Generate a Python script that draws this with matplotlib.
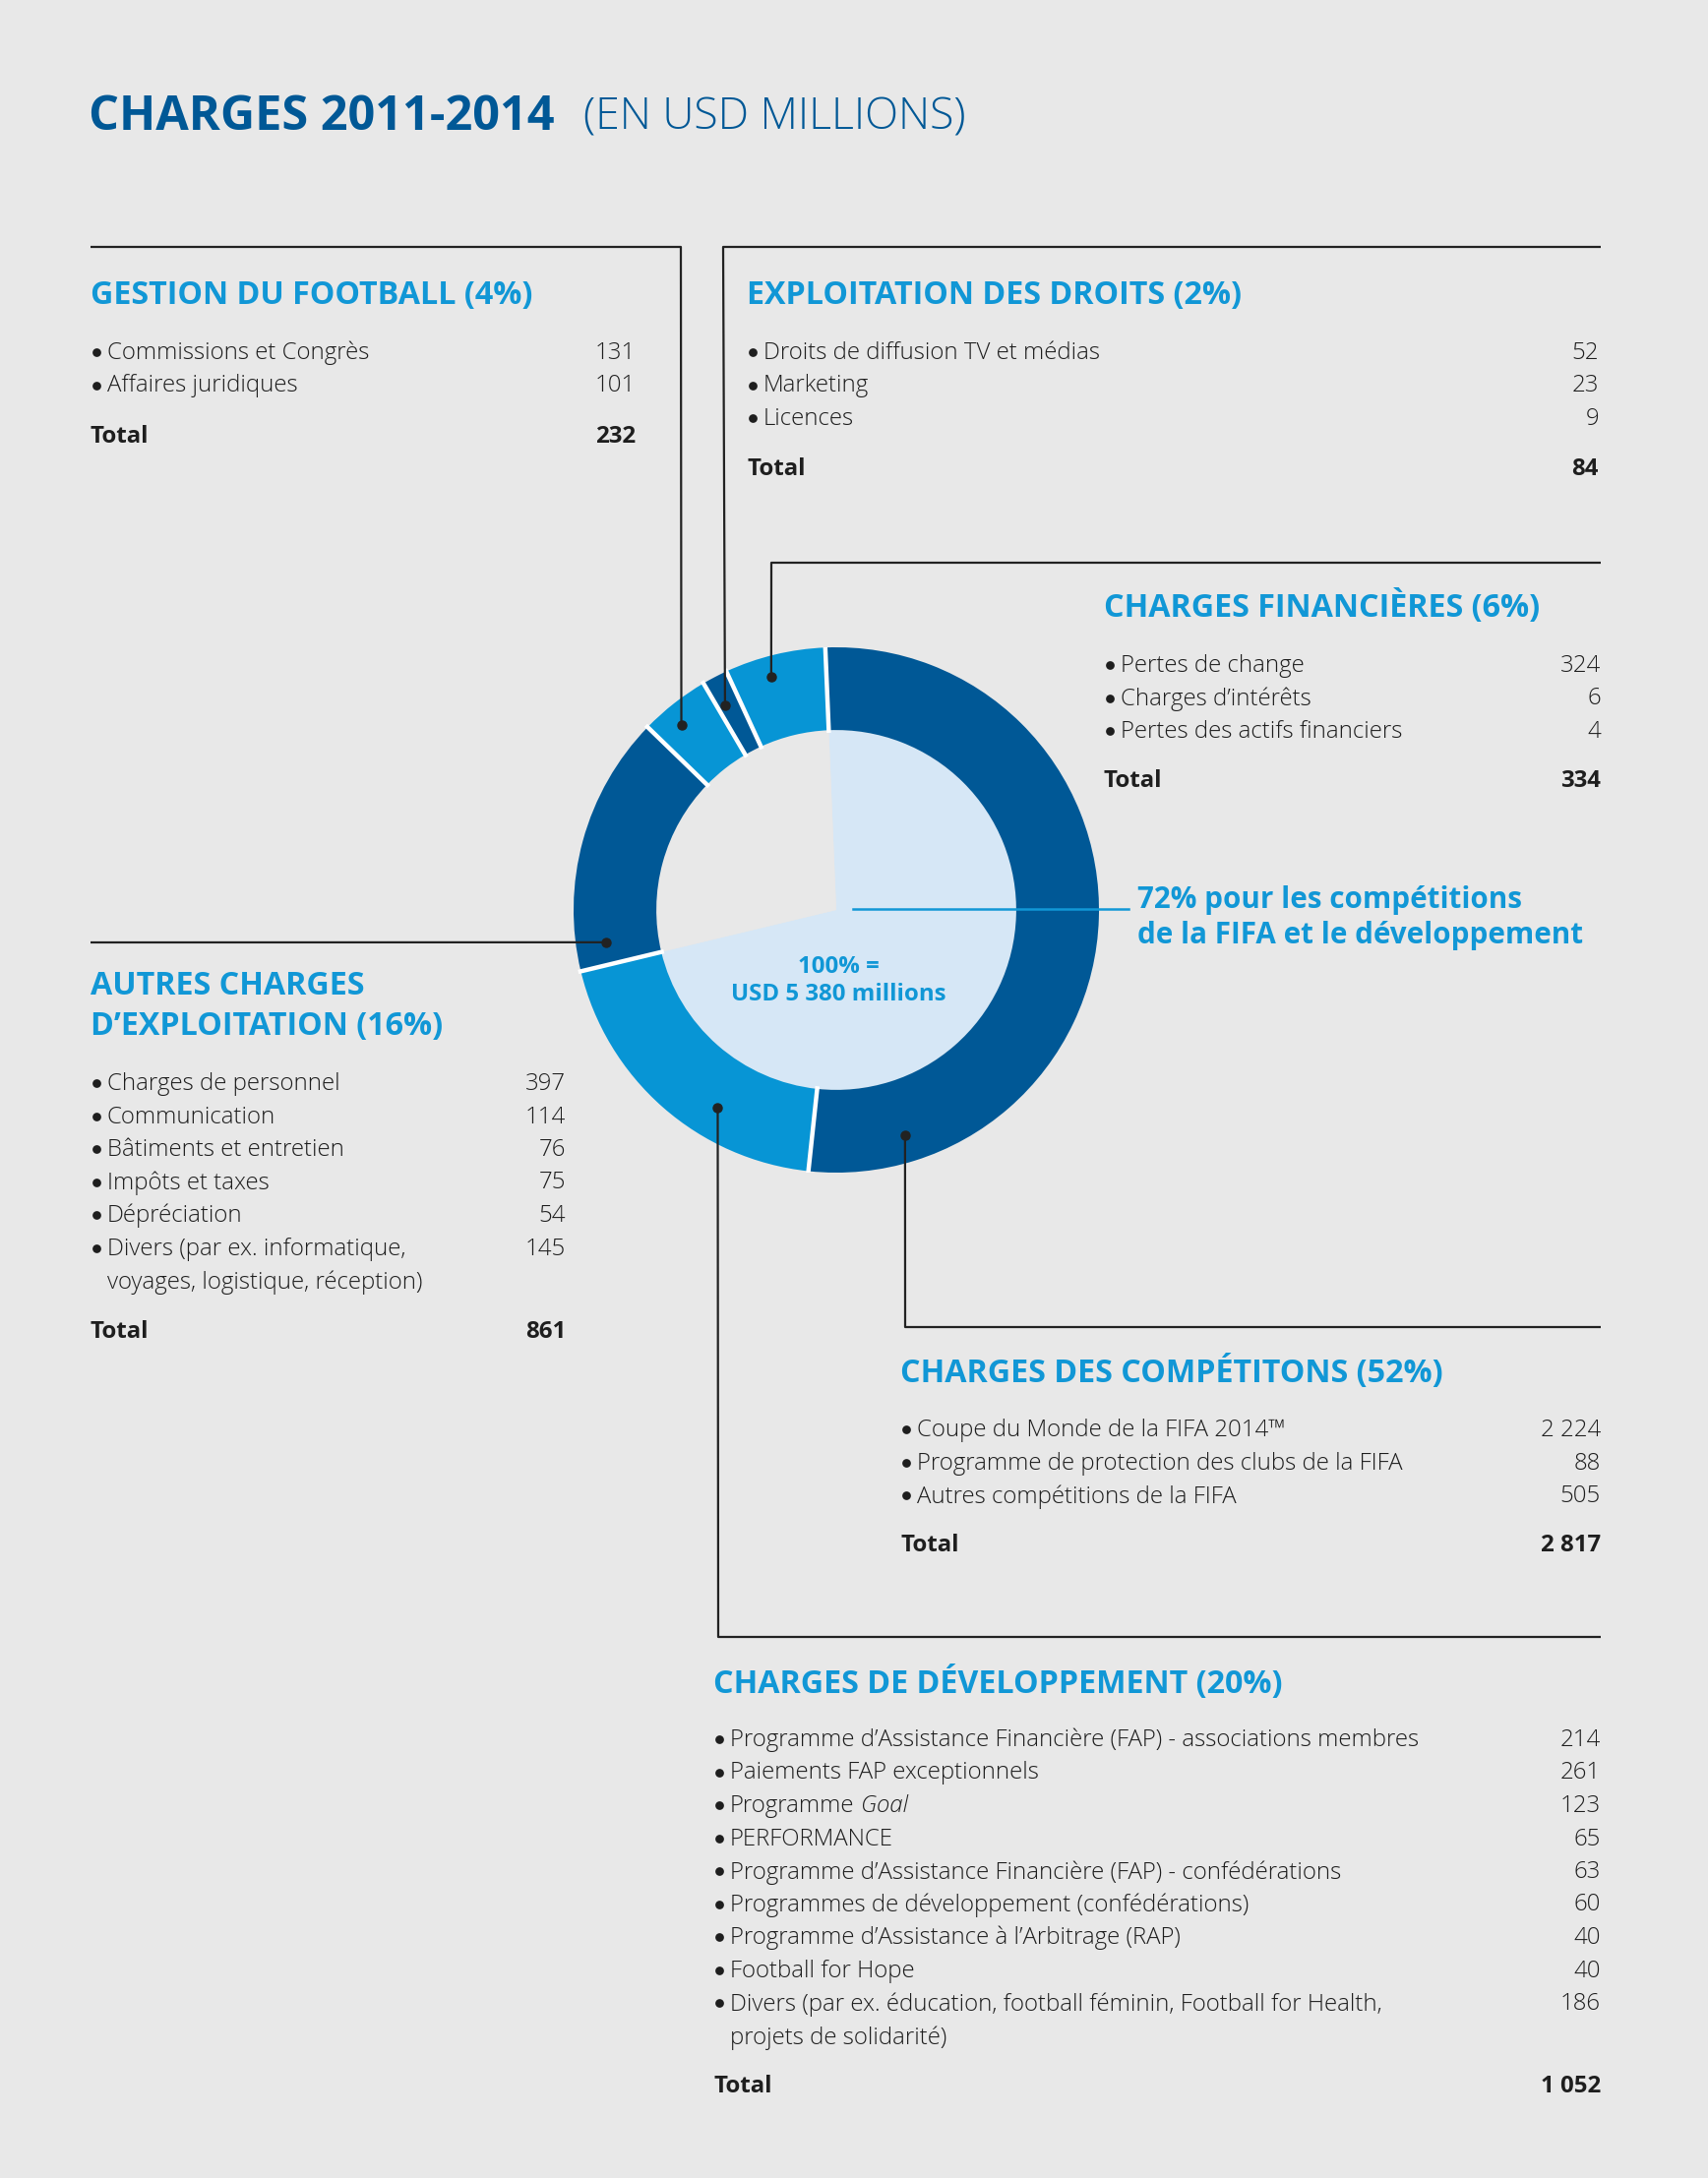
import matplotlib.pyplot as plt
import numpy as np

# --- data -------------------------------------------------------------
segments = ["CHARGES DES COMPÉTITONS", "CHARGES DE DÉVELOPPEMENT",
            "AUTRES CHARGES\nD’EXPLOITATION", "GESTION DU FOOTBALL",
            "EXPLOITATION DES DROITS", "CHARGES FINANCIÈRES"]
totals = [2817, 1052, 861, 232, 84, 334]

comp_items = ["Coupe du Monde de la FIFA 2014™",
              "Programme de protection des clubs de la FIFA",
              "Autres compétitions de la FIFA"]
comp_values = [2224, 88, 505]

# *...* marks the italic part
dev_items = ["Programme d’Assistance Financière (FAP) - associations membres",
             "Paiements FAP exceptionnels",
             "Programme *Goal*",
             "PERFORMANCE",
             "Programme d’Assistance Financière (FAP) - confédérations",
             "Programmes de développement (confédérations)",
             "Programme d’Assistance à l’Arbitrage (RAP)",
             "Football for Hope",
             "Divers (par ex. éducation, football féminin, Football for Health,\nprojets de solidarité)"]
dev_values = [214, 261, 123, 65, 63, 60, 40, 40, 186]

autres_items = ["Charges de personnel", "Communication", "Bâtiments et entretien",
                "Impôts et taxes", "Dépréciation",
                "Divers (par ex. informatique,\nvoyages, logistique, réception)"]
autres_values = [397, 114, 76, 75, 54, 145]

gestion_items = ["Commissions et Congrès", "Affaires juridiques"]
gestion_values = [131, 101]

droits_items = ["Droits de diffusion TV et médias", "Marketing", "Licences"]
droits_values = [52, 23, 9]

fin_items = ["Pertes de change", "Charges d’intérêts", "Pertes des actifs financiers"]
fin_values = [324, 6, 4]

# --- style ------------------------------------------------------------
BG = "#e8e8e8"
DARK = "#005896"
MID = "#0795d5"
LIGHT = "#d6e7f6"
HEAD = "#1197d6"
TXT = "#1e1e1e"
FONT = ["Open Sans", "DejaVu Sans"]
ITEM_FS = 17.3
HEAD_FS = 23.2

W, H = 1736, 2214
fig = plt.figure(figsize=(W / 100, H / 100), dpi=100, facecolor=BG)

grand_total = sum(totals)
pcts = [round(100 * t / grand_total) for t in totals]

# donut
cx, cy, R = 850, 925, 267
start = 92.4
ring_w = 0.315
pax = fig.add_axes([(cx - R) / W, 1 - (cy + R) / H, 2 * R / W, 2 * R / H])
pax.set_facecolor("none")
main_share = totals[0] + totals[1]
pax.pie([main_share, grand_total - main_share], radius=1 - ring_w,
        colors=[LIGHT, BG], startangle=start, counterclock=False,
        wedgeprops=dict(linewidth=0))
wedges, _ = pax.pie(totals, radius=1.0, colors=[DARK, MID, DARK, MID, DARK, MID],
                    startangle=start, counterclock=False,
                    wedgeprops=dict(width=ring_w, linewidth=0))
# white separators between ring segments only
for w in wedges:
    a = np.deg2rad(w.theta1)
    r0, r1 = 1 - ring_w - 0.01, 1.01
    pax.plot([r0 * np.cos(a), r1 * np.cos(a)], [r0 * np.sin(a), r1 * np.sin(a)],
             color="white", lw=3.2, solid_capstyle="butt")
pax.set_xlim(-1, 1)
pax.set_ylim(-1, 1)
pax.set_aspect("equal")
pax.axis("off")

# overlay in pixel coordinates
ax = fig.add_axes([0, 0, 1, 1], zorder=5)
ax.set_xlim(0, W)
ax.set_ylim(H, 0)
ax.axis("off")
ax.patch.set_alpha(0)
renderer = fig.canvas.get_renderer()

ax.text(90, 120, "CHARGES 2011-2014", fontsize=35, fontweight="bold",
        color=DARK, family=FONT, va="center")
ax.text(593, 120, "(EN USD MILLIONS)", fontsize=32, fontweight="light",
        color=DARK, family=FONT, va="center")


def fmt(v):
    return f"{v:,}".replace(",", " ")


def item_text(x, y, lab):
    if "*" in lab:
        plain, ital, _ = lab.split("*")
        t = ax.text(x, y, plain.rstrip(), fontsize=ITEM_FS, color=TXT, family=FONT,
                    va="top", fontweight="light")
        wpx = t.get_window_extent(renderer).width
        ax.text(x + wpx + 6.5, y, ital, fontsize=ITEM_FS, color=TXT, family=FONT,
                va="top", fontweight="light", fontstyle="italic")
    else:
        ax.text(x, y, lab, fontsize=ITEM_FS, color=TXT, family=FONT, va="top",
                fontweight="light", linespacing=1.52)


def block(x0, x1, y_head, heading, items, values, total, y_items, y_total):
    ax.text(x0, y_head, heading, fontsize=HEAD_FS, fontweight="bold", color=HEAD,
            family=FONT, va="center", linespacing=1.35)
    for lab, val, y in zip(items, values, y_items):
        ax.plot(x0 + 6, y + 11, "o", color=TXT, ms=6.3, mew=0)
        item_text(x0 + 17, y, lab)
        ax.text(x1, y, fmt(val), fontsize=ITEM_FS, color=TXT, family=FONT,
                va="top", ha="right", fontweight="light")
    ax.text(x0, y_total, "Total", fontsize=ITEM_FS, fontweight="bold", color=TXT,
            family=FONT, va="center")
    ax.text(x1, y_total, fmt(total), fontsize=ITEM_FS, fontweight="bold", color=TXT,
            family=FONT, va="center", ha="right")


def leader(points, angle, rad):
    a = np.deg2rad(angle)
    px, py = cx + rad * np.cos(a), cy - rad * np.sin(a)
    xs = [p[0] for p in points] + [px]
    ys = [p[1] for p in points] + [py]
    ax.plot(xs, ys, color="#222222", lw=1.6, solid_capstyle="butt")
    ax.plot(px, py, "o", color="#222222", ms=6.5)


lh = 33.5  # row height
# Gestion du football
leader([(92, 251), (692, 251)], 130, 245)
block(92, 646, 301, f"{segments[3]} ({pcts[3]}%)", gestion_items, gestion_values,
      totals[3], [347 + i * lh for i in range(2)], 444)
# Exploitation des droits
leader([(1627, 251), (735, 251)], 118.5, 237)
block(759, 1625, 301, f"{segments[4]} ({pcts[4]}%)", droits_items, droits_values,
      totals[4], [347 + i * lh for i in range(3)], 477)
# Charges financières
leader([(1627, 572), (784, 572)], 105.6, 246)
block(1122, 1627, 617, f"{segments[5]} ({pcts[5]}%)", fin_items, fin_values,
      totals[5], [665 + i * lh for i in range(3)], 794)
# Autres charges d'exploitation
leader([(92, 958)], 188, 236)
block(92, 575, 1023, f"{segments[2]} ({pcts[2]}%)", autres_items, autres_values,
      totals[2], [1090 + i * lh for i in range(6)], 1354)
# Charges des compétitions
leader([(1627, 1349), (920, 1349)], -73, 239)
block(915, 1627, 1396, f"{segments[0]} ({pcts[0]}%)", comp_items, comp_values,
      totals[0], [1442 + i * lh for i in range(3)], 1571)
# Charges de développement
leader([(1627, 1664), (730, 1664)], -121, 234)
block(725, 1627, 1711, f"{segments[1]} ({pcts[1]}%)", dev_items, dev_values,
      totals[1], [1757 + i * lh for i in range(9)], 2121)

# 72% callout
ax.plot([867, 1147], [924, 924], color=HEAD, lw=1.8)
ax.text(1156, 933, f"{round(100 * main_share / grand_total)}% pour les compétitions\nde la FIFA et le développement",
        fontsize=21.3, fontweight="bold", color=HEAD, family=FONT, va="center",
        linespacing=1.25)

# center label
ax.text(852, 997, f"100% =\nUSD {fmt(grand_total)} millions", fontsize=17.3,
        fontweight="bold", color=HEAD, family=FONT, ha="center", va="center",
        linespacing=1.2)

fig.savefig("out.png", dpi=100, facecolor=BG)
